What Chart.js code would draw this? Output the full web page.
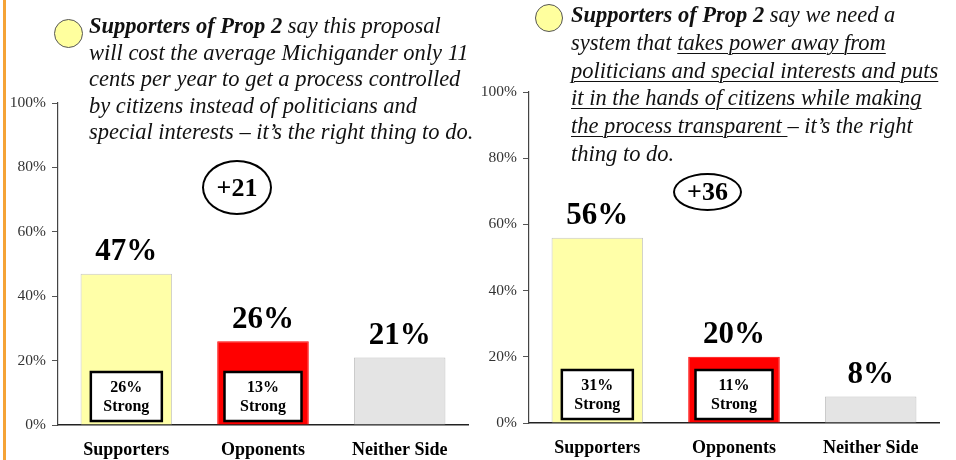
<!DOCTYPE html>
<html>
<head>
<meta charset="utf-8">
<script src="https://cdn.jsdelivr.net/npm/chart.js@4.4.1/dist/chart.umd.min.js"></script>
<style>
  body { margin: 0; background: #fff; }
  #page { position: relative; width: 956px; height: 460px; overflow: hidden; font-family: "Liberation Serif", "Times New Roman", serif; }
  canvas { position: absolute; top: 0; }
  .edge { position: absolute; left: 3px; top: 0; width: 3px; height: 460px; background: #f5a336; }
  .bubble { position: absolute; border-radius: 50%; background: #ffff9e; border: 1px solid #555; box-sizing: border-box; }
  .note { position: absolute; font-size: 22.5px; font-style: italic; color: #111; white-space: nowrap; }
  .note u { text-decoration-thickness: 1px; text-underline-offset: 3px; }
  .lead { position: absolute; border: 2.5px solid #000; border-radius: 50%; box-sizing: border-box;
          display: flex; align-items: center; justify-content: center; font-weight: bold; font-size: 26px; }
</style>
</head>
<body>
<div id="page">
  <div class="edge"></div>
  <canvas id="chartCost" width="478" height="460" style="left:0"></canvas>
  <canvas id="chartPower" width="478" height="460" style="left:471px"></canvas>

  <div class="bubble" style="left:54px; top:19px; width:29px; height:29px"></div>
  <div class="note" style="left:89px; top:13px; line-height:26.5px">
    <b>Supporters of Prop 2</b> say this proposal<br>
    will cost the average Michigander only 11<br>
    cents per year to get a process controlled<br>
    by citizens instead of politicians and<br>
    special interests – it’s the right thing to do.
  </div>
  <div class="lead" style="left:202px; top:160px; width:70px; height:55px">+21</div>

  <div class="bubble" style="left:535px; top:4px; width:28px; height:28px"></div>
  <div class="note" style="left:571px; top:1px; line-height:27.8px">
    <b>Supporters of Prop 2</b> say we need a<br>
    system that <u>takes power away from</u><br>
    <u>politicians and special interests and puts</u><br>
    <u>it in the hands of citizens while making</u><br>
    <u>the process transparent </u>– it’s the right<br>
    thing to do.
  </div>
  <div class="lead" style="left:673px; top:173px; width:69px; height:38px">+36</div>
</div>

<script>
// categories and values
const categories = ['Supporters', 'Opponents', 'Neither Side'];
const costValues = [47, 26, 21];      // "11 cents per year" message
const costStrong = [26, 13, null];
const powerValues = [56, 20, 8];      // "takes power away" message
const powerStrong = [31, 11, null];
const yTickValues = [0, 20, 40, 60, 80, 100];

const barColors = ['#ffffa8', '#ff0000', '#e4e4e4'];
const barBorders = ['#c8c8c8', '#ff0000', '#c0c0c0'];
const serif = '"Liberation Serif", "Times New Roman", serif';

// big % above each bar, plus the white "xx% Strong" box inside
const barNotes = {
    id: 'barNotes',
    afterDatasetsDraw(chart, args, opts) {
        const ctx = chart.ctx;
        const meta = chart.getDatasetMeta(0);
        const values = chart.data.datasets[0].data;
        const yScale = chart.scales.y;
        ctx.save();
        meta.data.forEach((bar, i) => {
            ctx.fillStyle = '#000';
            ctx.font = 'bold 31px ' + serif;
            ctx.textAlign = 'center';
            ctx.textBaseline = 'bottom';
            ctx.fillText(values[i] + '%', bar.x, bar.y - 6);

            const s = opts.strong[i];
            if (s == null) return;
            const w = i === 0 ? 71 : 77;
            const h = 49;
            const bottom = yScale.getPixelForValue(0) - 4;
            ctx.fillStyle = '#fff';
            ctx.fillRect(bar.x - w / 2, bottom - h, w, h);
            ctx.lineWidth = 2.5;
            ctx.strokeStyle = '#000';
            ctx.strokeRect(bar.x - w / 2, bottom - h, w, h);
            ctx.fillStyle = '#000';
            ctx.font = 'bold 16px ' + serif;
            ctx.textBaseline = 'middle';
            ctx.fillText(s + '%', bar.x, bottom - h + 16);
            ctx.fillText('Strong', bar.x, bottom - h + 35);
        });
        ctx.restore();
    }
};

function makeChart(id, values, strong, topPad, xHeight) {
    const ctx = document.getElementById(id).getContext('2d');
    return new Chart(ctx, {
        type: 'bar',
        data: {
            labels: categories,
            datasets: [{
                data: values,
                backgroundColor: barColors,
                borderColor: barBorders,
                borderWidth: 1,
                barPercentage: 0.67,
                categoryPercentage: 1
            }]
        },
        options: {
            responsive: false,
            animation: false,
            layout: { padding: { top: topPad, right: 10, bottom: 0, left: 0 } },
            plugins: {
                legend: { display: false },
                tooltip: { enabled: false },
                barNotes: { strong: strong }
            },
            scales: {
                x: {
                    grid: { display: false, drawTicks: false },
                    border: { display: true, color: '#222', width: 1.5 },
                    ticks: { color: '#000', padding: 15, font: { family: serif, size: 18, weight: 'bold' } },
                    afterFit: (scale) => { scale.height = xHeight; }
                },
                y: {
                    min: 0,
                    max: 100,
                    afterBuildTicks: (scale) => { scale.ticks = yTickValues.map(v => ({ value: v })); },
                    grid: { drawOnChartArea: false, drawTicks: true, tickLength: 6, color: '#555' },
                    border: { display: true, color: '#444', width: 1.2 },
                    ticks: {
                        color: '#333',
                        padding: 6,
                        font: { family: serif, size: 15.5 },
                        callback: (v) => v + '%'
                    },
                    afterFit: (scale) => { scale.width = 58; }
                }
            }
        },
        plugins: [barNotes]
    });
}

makeChart('chartCost', costValues, costStrong, 103, 35);
makeChart('chartPower', powerValues, powerStrong, 92, 37);
</script>
</body>
</html>
